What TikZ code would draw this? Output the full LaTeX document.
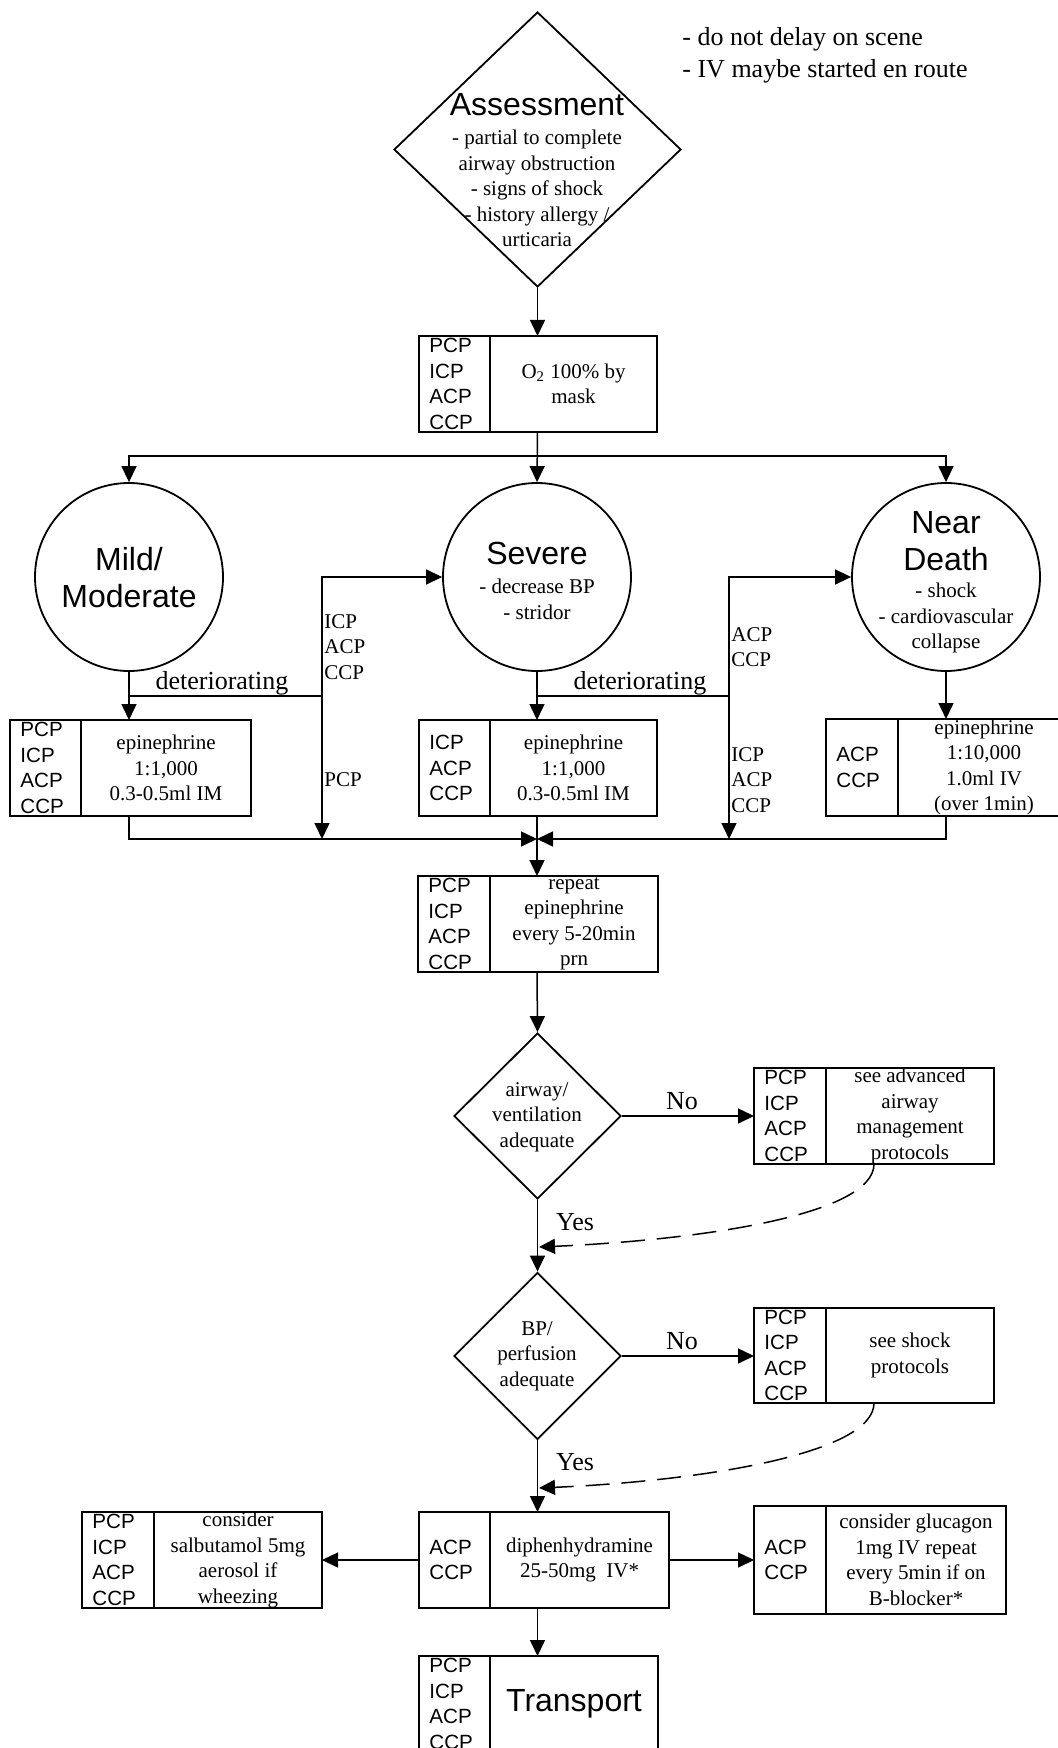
\documentclass[tikz,border=0pt]{standalone}
\usepackage{fontspec}
\setmainfont{Liberation Serif}
\setsansfont{Liberation Sans}
\usetikzlibrary{arrows.meta,shapes.geometric,fit}

\newcommand\fsm{\fontsize{10.5pt}{12.75pt}\selectfont}
\newcommand\flab{\sffamily\fontsize{10.3pt}{12.75pt}\selectfont}
\newcommand\fbig{\sffamily\fontsize{16pt}{18.5pt}\selectfont}
\newcommand\fmed{\fontsize{13pt}{16pt}\selectfont}

\newcommand\rolebox[8]{%
  \node[rbox,fit={(#2,#3)(#5,#6)}] (#1) {};
  \draw[line] (#4,#3) -- (#4,#6);
  \node[lab,anchor=west] (#1l) at ({#2+10},{(#3+#6)/2}) {#7};
  \node[txt] (#1t) at ({(#4+#5)/2},{(#3+#6)/2}) {#8};
}

\begin{document}
\begin{tikzpicture}[x=0.5pt,y=-0.5pt,
  line/.style={line width=0.75pt},
  arr/.style={line width=0.75pt,-{Triangle[length=8pt,width=7.5pt]}},
  darr/.style={arr,dash pattern=on 12pt off 6pt},
  rbox/.style={draw,line width=0.9pt,inner sep=0pt,outer sep=0pt},
  lab/.style={font=\flab,align=left,inner sep=0pt},
  txt/.style={font=\fsm,align=center,inner sep=0pt},
  big/.style={font=\fbig,align=center,inner sep=0pt},
  med/.style={font=\fmed,align=left,inner sep=0pt},
  circ/.style={draw,circle,line width=0.9pt,minimum size=94pt,inner sep=0pt},
  dia/.style={draw,diamond,line width=0.9pt,inner sep=0pt},
]
\path[use as bounding box,fill=white] (0,0) rectangle (1057,1748);

% notes
\node[med,anchor=west] (notes) at (682,55) {- do not delay on scene\\- IV maybe started en route};

% assessment
\node[dia,minimum width=143.5pt,minimum height=137.5pt] (assess) at (537.5,149.5) {};
\node[big] (assessT) at (537,105) {Assessment};
\node[txt] (assessS) at (537,188.5) {- partial to complete\\airway obstruction\\- signs of shock\\- history allergy /\\urticaria};

% oxygen
\rolebox{o2}{419}{336}{490}{657}{432}{PCP\\ICP\\ACP\\CCP}{O\textsubscript{2} 100\% by\\mask}

% severity circles
\node[circ] (mild) at (129,577) {};
\node[big] (mildT) at (129,578) {Mild/\\Moderate};
\node[circ] (severe) at (537,577) {};
\node[big] (severeT) at (537,553) {Severe};
\node[txt] (severeS) at (537,599.5) {- decrease BP\\- stridor};
\node[circ] (near) at (946,577) {};
\node[big] (nearT) at (946,541) {Near\\Death};
\node[txt] (nearS) at (946,618) {- shock\\- cardiovascular\\collapse};

% epinephrine boxes
\rolebox{mbox}{10}{720}{81}{251}{816}{PCP\\ICP\\ACP\\CCP}{epinephrine\\1:1,000\\0.3-0.5ml IM}
\rolebox{sbox}{419}{720}{490}{657}{816}{ICP\\ACP\\CCP}{epinephrine\\1:1,000\\0.3-0.5ml IM}
\rolebox{nbox}{826}{719}{898}{1070}{816}{ACP\\CCP}{epinephrine\\1:10,000\\1.0ml IV\\(over 1min)}

% repeat
\rolebox{rep}{418}{876}{490}{658}{972}{PCP\\ICP\\ACP\\CCP}{repeat\\epinephrine\\every 5-20min\\prn}

% airway decision
\node[dia,minimum width=83.5pt,minimum height=83pt] (air) at (537.5,1116) {};
\node[txt] (airT) at (537,1117) {airway/\\ventilation\\adequate};
\rolebox{adv}{754}{1068}{826}{994}{1164}{PCP\\ICP\\ACP\\CCP}{see advanced\\airway\\management\\protocols}

% BP decision
\node[dia,minimum width=83.5pt,minimum height=83.5pt] (bp) at (537.5,1356) {};
\node[txt] (bpT) at (537,1356) {BP/\\perfusion\\adequate};
\rolebox{shock}{754}{1308}{826}{994}{1403}{PCP\\ICP\\ACP\\CCP}{see shock\\protocols}

% bottom row
\rolebox{diphen}{419}{1512}{490}{669}{1608}{ACP\\CCP}{diphenhydramine\\25-50mg\enspace IV*}
\rolebox{salb}{82}{1512}{154}{322}{1608}{PCP\\ICP\\ACP\\CCP}{consider\\salbutamol 5mg\\aerosol if\\wheezing}
\rolebox{gluc}{754}{1506}{826}{1006}{1614}{ACP\\CCP}{consider glucagon\\1mg IV repeat\\every 5min if on\\B-blocker*}
\rolebox{trans}{419}{1656}{490}{658}{1752}{PCP\\ICP\\ACP\\CCP}{\fbig Transport}

% connectors
\draw[arr] (assess.south) -- (assess.south |- o2.north);
\draw[arr] (assess.south |- o2.south) -- (severe.north);
\draw[arr] (assess.south |- o2.south) -- ++(0,24) -| (mild.north);
\draw[arr] (assess.south |- o2.south) -- ++(0,24) -| (near.north);

\draw[arr] (mild.south) -- (mild.south |- mbox.north);
\draw[arr] (severe.south) -- (severe.south |- sbox.north);
\draw[arr] (near.south) -- (near.south |- nbox.north);

\coordinate (d1) at (322,696);
\coordinate (d2) at (729,696);
\coordinate (bus) at (537,839);
\draw[line] (mild.south |- d1) -- (d1);
\draw[arr] (d1) |- (severe.west);
\draw[arr] (d1) -- (d1 |- bus);
\draw[line] (severe.south |- d2) -- (d2);
\draw[arr] (d2) |- (near.west);
\draw[arr] (d2) -- (d2 |- bus);
\node[med] (det1) at (222,683) {deteriorating};
\node[med] (det2) at (640,683) {deteriorating};
\node[txt,anchor=west,align=left] (l1) at (324,647) {ICP\\ACP\\CCP};
\node[txt,anchor=west] (l2) at (324,780) {PCP};
\node[txt,anchor=west,align=left] (l3) at (731,647) {ACP\\CCP};
\node[txt,anchor=west,align=left] (l4) at (731,780) {ICP\\ACP\\CCP};

\draw[arr] (mild.south |- mbox.south) |- (bus);
\draw[arr] (near.south |- nbox.south) |- (bus);
\draw[arr] (bus |- sbox.south) -- (bus |- rep.north);

\draw[arr] (bus |- rep.south) -- (air.north);
\draw[arr] (air.east) -- (adv.west |- air.east);
\node[med] (no1) at (682,1101) {No};
\draw[arr] (air.south) -- (bp.north);
\node[med] (yes1) at (575,1222) {Yes};
\coordinate (j1) at (539,1247);
\draw[darr] (adv.south) .. controls (874,1215) and (700,1240) .. (j1);

\draw[arr] (bp.east) -- (shock.west |- bp.east);
\node[med] (no2) at (682,1341) {No};
\draw[arr] (bp.south) -- (bp.south |- diphen.north);
\node[med] (yes2) at (575,1462) {Yes};
\coordinate (j2) at (539,1488);
\draw[darr] (shock.south) .. controls (874,1454) and (700,1481) .. (j2);

\draw[arr] (diphen.west) -- (salb.east |- diphen.west);
\draw[arr] (diphen.east) -- (gluc.west |- diphen.east);
\draw[arr] (bp.south |- diphen.south) -- (bp.south |- trans.north);
\end{tikzpicture}
\end{document}
